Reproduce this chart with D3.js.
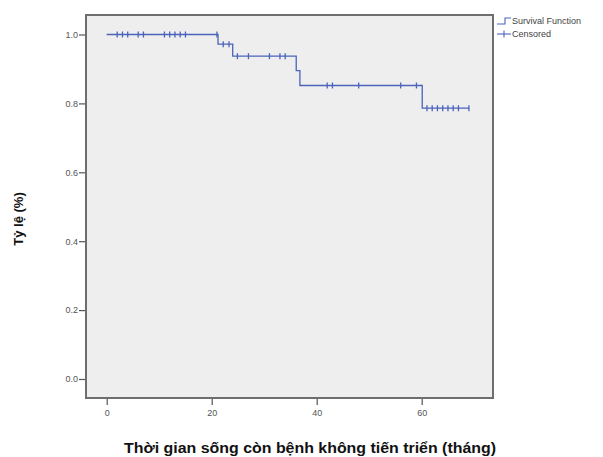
<!DOCTYPE html>
<html>
<head>
<meta charset="utf-8">
<script src="https://cdn.jsdelivr.net/npm/d3@7"></script>
<style>
  body { margin: 0; background: #fff; }
  svg { display: block; font-family: Arial, "Liberation Sans", sans-serif; }
</style>
</head>
<body>
<div id="chart"></div>
<script>
// step changes of the survival function: time (months) -> survival after the step
const stepTimes = [0, 21.2, 24, 36.1, 36.8, 60.1];
const stepValues = [1.0, 0.972, 0.937, 0.895, 0.852, 0.786];
const endTime = 69;

// censored observations (months)
const censoredTimes = [2, 3, 4, 6, 7, 11, 12, 13, 14, 15, 21,
  22.2, 23.3, 24.9, 27, 31, 33, 34,
  42, 43, 48, 56, 59,
  61, 62, 63, 64, 65, 66, 67, 69];

const xTicks = [0, 20, 40, 60];
const yTicks = [0, 0.2, 0.4, 0.6, 0.8, 1.0];

const W = 603, H = 457;
const frame = { left: 86, top: 15, right: 493, bottom: 398 };
const lineColor = '#4b63bb';

const svg = d3.select('#chart').append('svg')
  .attr('width', W).attr('height', H);

const x = d3.scaleLinear().domain([0, 60]).range([106.7, 421.7]);
const y = d3.scaleLinear().domain([0, 1]).range([379, 34.5]);

// plot frame
svg.append('rect')
  .attr('x', frame.left).attr('y', frame.top)
  .attr('width', frame.right - frame.left).attr('height', frame.bottom - frame.top)
  .attr('fill', '#eeeeee')
  .attr('stroke', '#6e6e6e').attr('stroke-width', 2);

// survival value at a given time
function survAt(t) {
  let v = stepValues[0];
  stepTimes.forEach((s, i) => { if (t >= s) v = stepValues[i]; });
  return v;
}

const pts = stepTimes.map((t, i) => [t, stepValues[i]]);
pts.push([endTime, stepValues[stepValues.length - 1]]);

svg.append('path')
  .datum(pts)
  .attr('fill', 'none')
  .attr('stroke', lineColor)
  .attr('stroke-width', 1.3)
  .attr('d', d3.line().x(d => x(d[0])).y(d => y(d[1])).curve(d3.curveStepAfter));

// censored markers
svg.selectAll('.cens')
  .data(censoredTimes)
  .enter().append('line')
  .attr('class', 'cens')
  .attr('x1', d => x(d)).attr('x2', d => x(d))
  .attr('y1', d => y(survAt(d)) - 3)
  .attr('y2', d => y(survAt(d)) + 3)
  .attr('stroke', lineColor)
  .attr('stroke-width', 1.3);

// axes
const xAxis = svg.append('g')
  .attr('transform', `translate(0,${frame.bottom + 1})`)
  .call(d3.axisBottom(x).tickValues(xTicks).tickSize(6).tickSizeOuter(0).tickFormat(d3.format('d')));
xAxis.select('.domain').remove();
xAxis.selectAll('line').attr('stroke', '#555').attr('stroke-width', 1.2);
xAxis.selectAll('text').attr('fill', '#555').attr('font-size', 9).attr('dy', '0.9em');

const yAxis = svg.append('g')
  .attr('transform', `translate(${frame.left - 1},0)`)
  .call(d3.axisLeft(y).tickValues(yTicks).tickSize(6).tickSizeOuter(0).tickFormat(d3.format('.1f')));
yAxis.select('.domain').remove();
yAxis.selectAll('line').attr('stroke', '#555').attr('stroke-width', 1.2);
yAxis.selectAll('text').attr('fill', '#555').attr('font-size', 9).attr('x', -7);

// axis titles
svg.append('text')
  .attr('x', 310).attr('y', 453)
  .attr('text-anchor', 'middle')
  .attr('font-size', 14).attr('font-weight', 'bold').attr('fill', '#111')
  .attr('textLength', 372).attr('lengthAdjust', 'spacingAndGlyphs')
  .text('Thời gian sống còn bệnh không tiến triển (tháng)');

svg.append('text')
  .attr('transform', 'translate(23,219) rotate(-90)')
  .attr('text-anchor', 'middle')
  .attr('font-size', 13).attr('font-weight', 'bold').attr('fill', '#111')
  .text('Tỷ lệ (%)');

// legend
const lg = svg.append('g').attr('transform', 'translate(497,0)');
lg.append('path')
  .attr('d', 'M0,24 H8 V18 H14')
  .attr('fill', 'none').attr('stroke', lineColor).attr('stroke-width', 1.1);
lg.append('text').attr('x', 15).attr('y', 24)
  .attr('font-size', 9).attr('fill', '#444').text('Survival Function');
lg.append('line').attr('x1', 0).attr('x2', 14).attr('y1', 34).attr('y2', 34)
  .attr('stroke', lineColor).attr('stroke-width', 1.1);
lg.append('line').attr('x1', 7).attr('x2', 7).attr('y1', 30.5).attr('y2', 37.5)
  .attr('stroke', lineColor).attr('stroke-width', 1.1);
lg.append('text').attr('x', 15).attr('y', 37)
  .attr('font-size', 9).attr('fill', '#444').text('Censored');
</script>
</body>
</html>
